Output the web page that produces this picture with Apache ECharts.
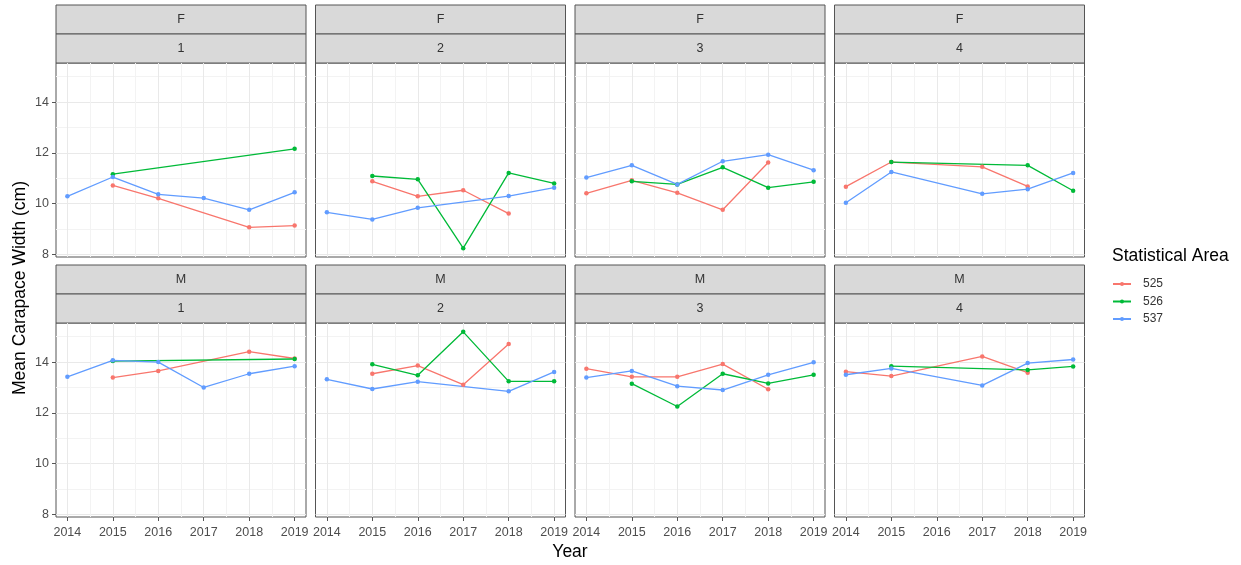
<!DOCTYPE html>
<html>
<head>
<meta charset="utf-8">
<title>Mean Carapace Width</title>
<script src="https://cdn.jsdelivr.net/npm/echarts@6/dist/echarts.min.js"></script>
<style>
  html, body { margin: 0; padding: 0; background: #fff; }
  #chart { width: 1241px; height: 565px; }
</style>
</head>
<body>
<div id="chart"></div>
<script>
// ---- data -------------------------------------------------------------
const years = [2014, 2015, 2016, 2017, 2018, 2019];
const sexes = ['F', 'M'];
const areas = ['1', '2', '3', '4'];
const statAreas = ['525', '526', '537'];
const yMajorTicks = [8, 10, 12, 14];
const yMinorTicks = [9, 11, 13, 15];

// mean carapace width (cm) per year, null = no sample
const F1_525 = [null, 10.72, 10.21, null, 9.07, 9.14];
const F1_526 = [null, 11.16, null, null, null, 12.16];
const F1_537 = [10.29, 11.05, 10.37, 10.22, 9.76, 10.45];

const F2_525 = [null, 10.88, 10.29, 10.53, 9.61, null];
const F2_526 = [null, 11.09, 10.96, 8.25, 11.21, 10.80];
const F2_537 = [9.66, 9.38, 9.84, null, 10.30, 10.63];

const F3_525 = [10.41, 10.92, 10.43, 9.76, 11.62, null];
const F3_526 = [null, 10.88, 10.76, 11.43, 10.63, 10.86];
const F3_537 = [11.03, 11.51, 10.76, 11.67, 11.93, 11.32];

const F4_525 = [10.67, 11.64, null, 11.45, 10.68, null];
const F4_526 = [null, 11.64, null, null, 11.51, 10.51];
const F4_537 = [10.04, 11.25, null, 10.39, 10.57, 11.21];

const M1_525 = [null, 13.39, 13.65, null, 14.41, 14.14];
const M1_526 = [null, 14.04, null, null, null, 14.12];
const M1_537 = [13.42, 14.07, 14.00, 13.00, 13.54, 13.84];

const M2_525 = [null, 13.54, 13.86, 13.11, 14.71, null];
const M2_526 = [null, 13.91, 13.48, 15.19, 13.24, 13.24];
const M2_537 = [13.32, 12.94, 13.23, null, 12.85, 13.61];

const M3_525 = [13.74, 13.42, 13.42, 13.92, 12.93, null];
const M3_526 = [null, 13.15, 12.25, 13.54, 13.16, 13.50];
const M3_537 = [13.39, 13.65, 13.05, 12.90, 13.50, 13.99];

const M4_525 = [13.62, 13.45, null, 14.22, 13.58, null];
const M4_526 = [null, 13.84, null, null, 13.69, 13.83];
const M4_537 = [13.50, 13.75, null, 13.08, 13.96, 14.10];

// ---- facet table --------------------------------------------------------
const panelSeries = [
  [F1_525, F1_526, F1_537], [F2_525, F2_526, F2_537],
  [F3_525, F3_526, F3_537], [F4_525, F4_526, F4_537],
  [M1_525, M1_526, M1_537], [M2_525, M2_526, M2_537],
  [M3_525, M3_526, M3_537], [M4_525, M4_526, M4_537]
];

const colors = ['#F8766D', '#00BA38', '#619CFF'];
const FONT = '"Liberation Sans", Arial, sans-serif';

// shared scales with 5% padding on both ends
const allVals = panelSeries.flat(2).filter(v => v != null);
const vLo = Math.min(...allVals), vHi = Math.max(...allVals);
const yMin = vLo - (vHi - vLo) * 0.05;
const yMax = vHi + (vHi - vLo) * 0.05;
const xSpan = years[years.length - 1] - years[0];
const xMin = years[0] - xSpan * 0.05;
const xMax = years[years.length - 1] + xSpan * 0.05;
const xMinor = years.slice(1).map(y => y - 0.5);

// ---- layout -------------------------------------------------------------
const colLefts = [56, 315.5, 575, 834.5];
const panelW = 250;
const rowTops = [63, 323];
const panelH = 194;
const stripH = 29;
const borderCol = '#555';

const grids = [], xAxes = [], yAxes = [], series = [], graphics = [];

panelSeries.forEach((sets, i) => {
  const row = Math.floor(i / 4), col = i % 4;
  const left = colLefts[col], top = rowTops[row];

  grids.push({
    left: left, top: top, width: panelW, height: panelH,
    show: true, backgroundColor: '#fff', borderColor: borderCol, borderWidth: 1,
    containLabel: false, outerBoundsMode: 'none'
  });

  // major x axis (years)
  xAxes.push({
    gridIndex: i, type: 'value', min: xMin, max: xMax,
    axisLine: { show: false },
    axisTick: { show: row === 1, customValues: years, length: 4, lineStyle: { color: borderCol, width: 1 } },
    axisLabel: { show: row === 1, customValues: years, margin: 9, color: '#4d4d4d', fontSize: 12.5, fontFamily: FONT, formatter: v => String(v) },
    splitLine: { show: true, customValues: years, lineStyle: { color: '#E9E9E9', width: 1 } }
  });
  // major y axis
  yAxes.push({
    gridIndex: i, type: 'value', min: yMin, max: yMax,
    axisLine: { show: false },
    axisTick: { show: col === 0, customValues: yMajorTicks, length: 4, lineStyle: { color: borderCol, width: 1 } },
    axisLabel: { show: col === 0, customValues: yMajorTicks, margin: 7, color: '#4d4d4d', fontSize: 12.5, fontFamily: FONT },
    splitLine: { show: true, customValues: yMajorTicks, lineStyle: { color: '#E9E9E9', width: 1 } }
  });

  statAreas.forEach((name, k) => {
    series.push({
      name: name, type: 'line', xAxisIndex: i, yAxisIndex: i,
      data: years.map((y, j) => [y, sets[k][j]]).filter(d => d[1] != null),
      symbol: 'circle', symbolSize: 4.5, showSymbol: true,
      lineStyle: { color: colors[k], width: 1.3 },
      itemStyle: { color: colors[k] },
      emphasis: { disabled: true }, silent: true
    });
  });

  // facet strips: sex on top, area below
  const stripTop = top - 2 * stripH;
  [[sexes[row], stripTop], [areas[col], stripTop + stripH]].forEach(([label, y]) => {
    graphics.push({
      type: 'rect', silent: true,
      shape: { x: left, y: y, width: panelW, height: stripH },
      style: { fill: '#D9D9D9', stroke: borderCol, lineWidth: 1 }
    });
    graphics.push({
      type: 'text', silent: true, x: left + panelW / 2, y: y + stripH / 2 + 0.5,
      style: { text: label, fill: '#333', font: '12.5px ' + FONT,
               align: 'center', verticalAlign: 'middle', textAlign: 'center', textVerticalAlign: 'middle' }
    });
  });
});

// minor grid lines on extra hidden axes
panelSeries.forEach((sets, i) => {
  xAxes.push({
    gridIndex: i, type: 'value', min: xMin, max: xMax, position: 'bottom',
    axisLine: { show: false },
    axisTick: { show: false, customValues: xMinor },
    axisLabel: { show: false, customValues: xMinor },
    splitLine: { show: true, customValues: xMinor, lineStyle: { color: '#F3F3F3', width: 1 } }
  });
  yAxes.push({
    gridIndex: i, type: 'value', min: yMin, max: yMax, position: 'left',
    axisLine: { show: false },
    axisTick: { show: false, customValues: yMinorTicks },
    axisLabel: { show: false, customValues: yMinorTicks },
    splitLine: { show: true, customValues: yMinorTicks, lineStyle: { color: '#F3F3F3', width: 1 } }
  });
});

// axis titles and legend title
graphics.push({
  type: 'text', silent: true, x: 20, y: 288, rotation: Math.PI / 2,
  style: { text: 'Mean Carapace Width (cm)', fill: '#000', font: '17.5px ' + FONT,
           align: 'center', verticalAlign: 'middle', textAlign: 'center', textVerticalAlign: 'middle' }
});
graphics.push({
  type: 'text', silent: true, x: 570, y: 552,
  style: { text: 'Year', fill: '#000', font: '17.5px ' + FONT,
           align: 'center', verticalAlign: 'middle', textAlign: 'center', textVerticalAlign: 'middle' }
});
graphics.push({
  type: 'text', silent: true, x: 1112, y: 256,
  style: { text: 'Statistical Area', fill: '#000', font: '17.5px ' + FONT,
           align: 'left', verticalAlign: 'middle', textAlign: 'left', textVerticalAlign: 'middle' }
});

const chart = echarts.init(document.getElementById('chart'), null, { renderer: 'canvas' });
chart.setOption({
  animation: false,
  backgroundColor: '#fff',
  grid: grids,
  xAxis: xAxes,
  yAxis: yAxes,
  series: series,
  legend: {
    data: statAreas, orient: 'vertical', left: 1112, top: 278, padding: 0,
    itemWidth: 18, itemHeight: 5, itemGap: 5.5,
    selectedMode: false,
    textStyle: { fontSize: 12, color: '#333', fontFamily: FONT, padding: [0, 0, 0, 7] }
  },
  graphic: { elements: graphics }
});
</script>
</body>
</html>
